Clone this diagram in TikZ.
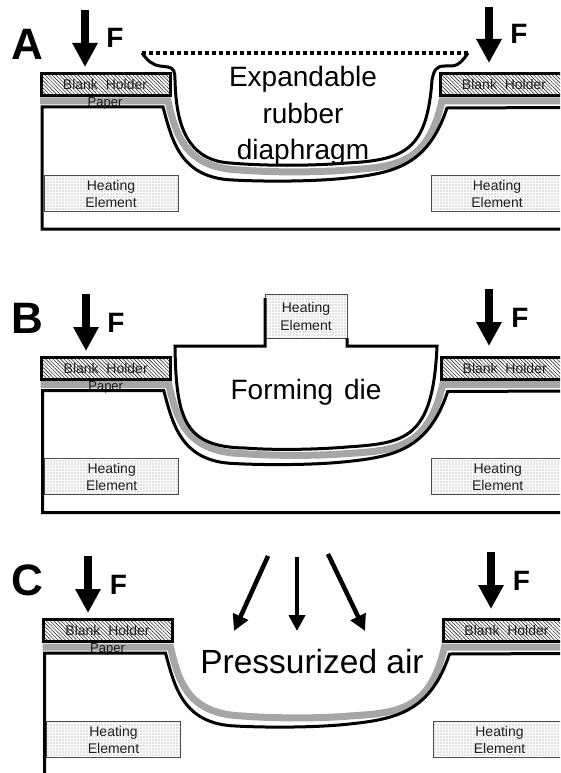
\documentclass[tikz,border=0pt]{standalone}
\usepackage{fontspec}
\setmainfont{Liberation Sans}
\usetikzlibrary{arrows.meta,patterns.meta}
\newcommand{\fs}[1]{\fontsize{#1}{#1}\selectfont}
\tikzset{
  every node/.style={inner sep=0pt,outer sep=0pt},
  blk/.style={draw=black,line width=3pt,line join=miter},
  holder/.style={blk,pattern={Lines[angle=-45,distance=2.6pt,line width=.6pt]},pattern color=black!80},
  heater/.style={draw=black!70,line width=.9pt,pattern={Dots[distance=3pt,radius=.55pt]},pattern color=black!50},
  small/.style={font=\fs{14},text=black!88,anchor=base},
  paperlbl/.style={font=\fs{13},text=black!90,anchor=base},
  big/.style={font=\fs{28},anchor=base},
  letterlbl/.style={font=\fs{44}\bfseries,anchor=base},
  flbl/.style={font=\fs{28}\bfseries,anchor=base},
  force/.style={line width=8pt,-{Triangle[width=24pt,length=24pt]}},
  air/.style={line width=4.5pt,-{Triangle[width=16pt,length=16pt]}},
  sheet/.style={draw=black!35,line width=7pt},
}
% #1 prefix, #2 dx, #3 dy
\newcommand{\commonparts}[3]{%
\begin{scope}[shift={(#2,#3)}]
  \draw[sheet] (40,101) -- (168,101) .. controls (176,135) and (185,168) .. (240,170)
     .. controls (265,172) and (310,173) .. (347,170)
     .. controls (398,167) and (428,163) .. (442,101) -- (566,101);
  \node[paperlbl] (#1paper) at (105,106.5) {Paper};
  \node[holder,minimum width=129pt,minimum height=22pt] (#1hl) at (105.7,84.7) {};
  \node[holder,minimum width=129pt,minimum height=22pt] (#1hr) at (505,84.7) {};
  \node[small] (#1hlt) at (105,89.5) {Blank\ \ Holder};
  \node[small] (#1hrt) at (504,89.5) {Blank\ \ Holder};
  \node[heater,minimum width=134pt,minimum height=36pt] (#1el) at (111,193) {};
  \node[heater,minimum width=134pt,minimum height=36pt] (#1er) at (498,193) {};
  \node[small] (#1elt) at (111,190) {Heating};
  \node[small] (#1elb) at (111,207) {Element};
  \node[small] (#1ert) at (497,190) {Heating};
  \node[small] (#1erb) at (497,207) {Element};
\end{scope}}
\newcommand{\moldtop}{(42,107) -- (163,107) .. controls (172,140) and (180,178) .. (233,180)
     .. controls (260,181.5) and (310,182) .. (347,178)
     .. controls (395,173) and (428,165) .. (447,108) -- (566,107.5)}
\begin{document}
\begin{tikzpicture}[x=1pt,y=-1pt]
\useasboundingbox (0,0) rectangle (560,773);
\clip (0,0) rectangle (560,773);
\fill[white] (0,0) rectangle (560,773);

% ---------- A
\commonparts{a}{0}{0}
\draw[blk] (566,229) -- (42,229) -- \moldtop;
\draw[blk,line width=4pt,dash pattern=on 4pt off 3pt] (142,53) -- (468,53);
\draw[black,line width=3pt] (142,53) .. controls (147,60) and (152,65) .. (160,66) -- (168,67)
   .. controls (174,68) and (175,72) .. (175,80)
   .. controls (176,115) and (182,160) .. (230,163)
   .. controls (265,166) and (310,166) .. (347,163)
   .. controls (405,160) and (427,150) .. (432,80)
   .. controls (434,70) and (436,66) .. (445,66) -- (452,66)
   .. controls (460,65) and (463,60) .. (468,53);
\node[big] (t1) at (303,87) {Expandable};
\node[big] (t2) at (303,124) {rubber};
\node[big] (t3) at (303,159) {diaphragm};
\node[letterlbl] (la) at (27,60) {A};
\node[flbl] (fa1) at (115,48) {F};
\node[flbl] (fa2) at (519,44) {F};
\coordinate (aa1) at (85,10); \coordinate (ab1) at (85,67);
\coordinate (aa2) at (489,7); \coordinate (ab2) at (489,63);
\draw[force] (aa1) -- (ab1);
\draw[force] (aa2) -- (ab2);

% ---------- B
\commonparts{b}{0.7}{283.5}
\begin{scope}[shift={(0.7,283.5)}]
\draw[blk] (566,229) -- (42,229) -- \moldtop;
\end{scope}
\node[heater,minimum width=82pt,minimum height=44pt] (bh) at (306,316) {};
\node[small] (bht) at (306,312) {Heating};
\node[small] (bhb) at (306,330) {Element};
\draw[black,line width=3pt] (265,298) -- (265,346) -- (175,346)
   .. controls (176,420) and (185,447) .. (245,448)
   .. controls (270,450) and (310,450) .. (347,447)
   .. controls (405,443) and (433,440) .. (437,346) -- (347,346) -- (347,338);
\node[big] (t4) at (306,399) {Forming\hskip3pt\ die};
\node[letterlbl] (lb) at (27.5,333) {B};
\node[flbl] (fb1) at (116,332) {F};
\node[flbl] (fb2) at (520,327) {F};
\coordinate (ba1) at (86,294); \coordinate (bb1) at (86,351);
\coordinate (ba2) at (489,289); \coordinate (bb2) at (489,346);
\draw[force] (ba1) -- (bb1);
\draw[force] (ba2) -- (bb2);

% ---------- C
\commonparts{c}{2.5}{546}
\begin{scope}[shift={(2.5,546)}]
\draw[blk] (42,232) -- \moldtop;
\end{scope}
\node[big,font=\fs{33.5}] (t5) at (312,673) {Pressurized air};
\node[letterlbl] (lc) at (27,595) {C};
\node[flbl] (fc1) at (118.5,594) {F};
\node[flbl] (fc2) at (521.5,590) {F};
\coordinate (ca1) at (88,556); \coordinate (cb1) at (88,613);
\coordinate (ca2) at (491,552); \coordinate (cb2) at (491,609);
\draw[force] (ca1) -- (cb1);
\draw[force] (ca2) -- (cb2);
\coordinate (d1) at (268,556); \coordinate (e1) at (234,631);
\coordinate (d2) at (297,557); \coordinate (e2) at (297,631);
\coordinate (d3) at (328,554); \coordinate (e3) at (365,631);
\draw[air] (d1) -- (e1);
\draw[air] (d2) -- (e2);
\draw[air] (d3) -- (e3);
\end{tikzpicture}
\end{document}
